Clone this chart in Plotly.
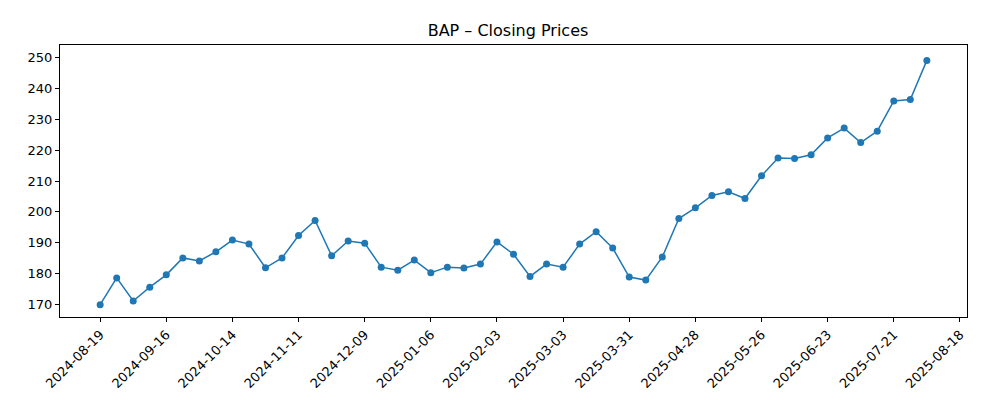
import plotly.graph_objects as go
import pandas as pd

dates = pd.date_range("2024-08-19", periods=51, freq="7D")
closes = [169.8,178.5,171,175.5,179.5,185,184,187,190.8,189.5,181.8,185,192.3,197.2,185.7,
          190.5,189.8,182,181,184.3,180.2,182,181.7,183,190.2,186.2,179,183,182,189.5,193.5,
          188.2,178.8,177.8,185.3,197.8,201.3,205.3,206.5,204.3,211.7,217.5,217.3,218.5,224,
          227.2,222.5,226.2,236,236.5,249.2]
tick_dates = pd.date_range("2024-08-19", "2025-08-18", freq="28D")
tick_labels = [d.strftime("%Y-%m-%d") for d in tick_dates]

fig = go.Figure(go.Scatter(x=dates, y=closes, mode="lines+markers",
    line=dict(color="#1f77b4", width=1.5), marker=dict(color="#1f77b4", size=7)))
axis = dict(showline=True, linecolor="black", linewidth=1, mirror=True, ticks="outside",
            ticklen=4, tickcolor="black", showgrid=False, zeroline=False, automargin=False,
            tickfont=dict(family="DejaVu Sans", size=13, color="black"))
fig.update_layout(
    width=1000, height=400, plot_bgcolor="white", paper_bgcolor="white", showlegend=False,
    margin=dict(l=52, r=41, t=37, b=91),
    title=dict(text="BAP – Closing Prices", x=0.5, xanchor="center", y=0.943, yanchor="middle",
               automargin=False, font=dict(family="DejaVu Sans", size=16, color="black")),
    xaxis=dict(axis, range=["2024-08-02", "2025-08-21"], tickvals=tick_dates, ticktext=tick_labels, tickangle=-45),
    yaxis=dict(axis, range=[165.8, 254.2], tickvals=list(range(170, 251, 10))),
)
fig.write_html("out.html")
